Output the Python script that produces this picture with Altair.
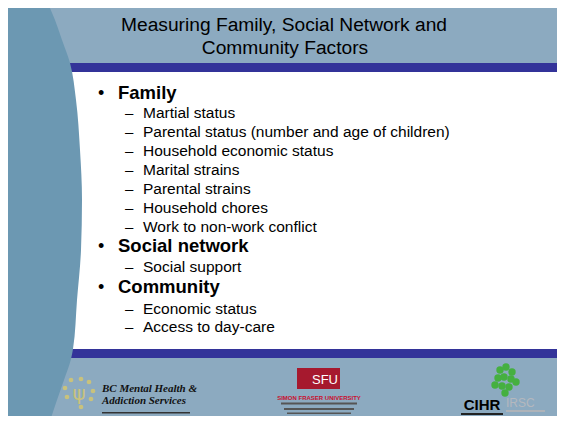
import altair as alt
import pandas as pd

# ---------------- content ----------------
TITLE_LINES = ["Measuring Family, Social Network and", "Community Factors"]
HEADINGS = ["Family", "Social network", "Community"]
SUB_ITEMS = [
    "Martial status",
    "Parental status (number and age of children)",
    "Household economic status",
    "Marital strains",
    "Parental strains",
    "Household chores",
    "Work to non-work conflict",
    "Social support",
    "Economic status",
    "Access to day-care",
]
LOGO_LEFT = ["BC Mental Health &", "Addiction Services"]
LOGO_MID = ["SFU", "SIMON FRASER UNIVERSITY"]
LOGO_RIGHT = ["CIHR", "IRSC"]

# ---------------- layout (slide pixel coordinates) ----------------
TITLE_BASE = [31, 54]
HEAD_BASE = [99, 252, 293]
SUB_BASE = [118, 137, 156, 175, 194, 213, 232, 272, 314, 332]
EDGE_Y = [0, 3, 20, 40, 63, 100, 150, 200, 250, 300, 349, 359, 380, 400, 421, 424]
EDGE_X = [47, 48, 55, 62, 70, 76, 80, 82, 81, 77, 73, 71, 64, 57, 50, 49]
DOT_X = [71, 81, 89, 93, 91, 81, 67, 65]
DOT_Y = [380, 379, 382, 391, 399, 407, 397, 388]
LEAF_X = [500, 506, 512, 498, 504, 511, 516, 495, 502, 509, 505]
LEAF_Y = [370, 367, 372, 378, 377, 379, 382, 385, 386, 387, 393]

W, H = 549, 408
OX, OY = 8, 8
XS = alt.Scale(domain=[OX, OX + W], range=[0, W], nice=False, zero=False)
YS = alt.Scale(domain=[OY, OY + H], range=[0, H], nice=False, zero=False)

BAND = "#8CAAC0"
CURVE = "#6C98B2"
STRIPE = "#333399"
FONT = "Liberation Sans"


def rect(x1, x2, y1, y2, color):
    df = pd.DataFrame({"x": [x1], "x2": [x2], "y": [y1], "y2": [y2]})
    return alt.Chart(df).mark_rect(color=color).encode(
        x=alt.X("x:Q", scale=XS, axis=None), x2="x2:Q",
        y=alt.Y("y:Q", scale=YS, axis=None), y2="y2:Q",
    )


def text(xs, ys, ts, **mark):
    df = pd.DataFrame({"x": xs, "y": ys, "t": ts})
    return alt.Chart(df).mark_text(**mark).encode(
        x=alt.X("x:Q", scale=XS, axis=None),
        y=alt.Y("y:Q", scale=YS, axis=None),
        text="t:N",
    )


layers = []
layers.append(rect(0, 565, 0, 424, "white"))
layers.append(rect(3, 562, 3, 63, BAND))
layers.append(rect(3, 562, 63, 72, STRIPE))
layers.append(rect(3, 562, 349, 358, STRIPE))
layers.append(rect(3, 562, 358, 421, BAND))

# left curved panel
curve_df = pd.DataFrame({"y": EDGE_Y, "x0": [0] * len(EDGE_Y), "x": EDGE_X})
layers.append(
    alt.Chart(curve_df).mark_area(orient="horizontal", interpolate="monotone", color=CURVE).encode(
        y=alt.Y("y:Q", scale=YS, axis=None),
        x=alt.X("x0:Q", scale=XS, axis=None),
        x2="x:Q",
    )
)

# title
layers.append(text([284, 285], TITLE_BASE, TITLE_LINES, font=FONT, fontSize=19.2, color="black",
                   align="center", baseline="alphabetic"))

# bullets + headings
layers.append(text([98] * 3, HEAD_BASE, ["•"] * 3, font=FONT, fontSize=18, color="black",
                   align="left", baseline="alphabetic"))
layers.append(text([118] * 3, HEAD_BASE, HEADINGS, font=FONT, fontSize=18.5, fontWeight="bold",
                   color="black", align="left", baseline="alphabetic"))

# sub items
layers.append(text([125] * len(SUB_ITEMS), SUB_BASE, ["–"] * len(SUB_ITEMS), font=FONT, fontSize=15,
                   color="black", align="left", baseline="alphabetic"))
layers.append(text([143] * len(SUB_ITEMS), SUB_BASE, SUB_ITEMS, font=FONT, fontSize=15.5,
                   color="black", align="left", baseline="alphabetic"))

# ---- left logo ----
dots_df = pd.DataFrame({"x": DOT_X, "y": DOT_Y})
layers.append(alt.Chart(dots_df).mark_circle(color="#C9C27C", size=22, opacity=1).encode(
    x=alt.X("x:Q", scale=XS, axis=None), y=alt.Y("y:Q", scale=YS, axis=None)))
layers.append(text([79], [400], ["ψ"], font="DejaVu Sans", fontSize=20, color="#C9C27C",
                   align="center", baseline="alphabetic"))
layers.append(text([102, 102], [392, 404], LOGO_LEFT, font="Liberation Serif", fontSize=11,
                   fontWeight="bold", fontStyle="italic", color="#111111", align="left",
                   baseline="alphabetic"))
layers.append(rect(102, 190, 412, 413.5, "#333333"))

# ---- middle logo (SFU) ----
layers.append(rect(297, 340, 368, 389, "#A6192E"))
layers.append(text([325], [384], [LOGO_MID[0]], font=FONT, fontSize=13, color="white",
                   align="center", baseline="alphabetic"))
layers.append(text([319], [400], [LOGO_MID[1]], font=FONT, fontSize=6, fontWeight="bold",
                   color="#C8102E", align="center", baseline="alphabetic"))
layers.append(rect(281, 357, 402.5, 404.5, "#555555"))
layers.append(rect(284, 354, 408, 410, "#555555"))
layers.append(rect(287, 351, 412.5, 414, "#555555"))

# ---- right logo ----
leaf_df = pd.DataFrame({"x": LEAF_X, "y": LEAF_Y})
layers.append(alt.Chart(leaf_df).mark_circle(color="#45B040", size=55, opacity=1).encode(
    x=alt.X("x:Q", scale=XS, axis=None), y=alt.Y("y:Q", scale=YS, axis=None)))
layers.append(text([482], [410], [LOGO_RIGHT[0]], font=FONT, fontSize=15, fontWeight="bold",
                   color="black", align="center", baseline="alphabetic"))
layers.append(text([506], [407], [LOGO_RIGHT[1]], font=FONT, fontSize=12, color="#B4B8BE",
                   align="left", baseline="alphabetic"))
layers.append(rect(506, 545, 410, 412, "#AEB3B9"))
layers.append(rect(461, 503, 413, 415, "#222222"))

chart = alt.layer(*layers).properties(
    width=W, height=H, padding=0, autosize="none"
).configure_view(stroke=None)

chart.save("out.html", embed_options={"renderer": "svg", "actions": False})
